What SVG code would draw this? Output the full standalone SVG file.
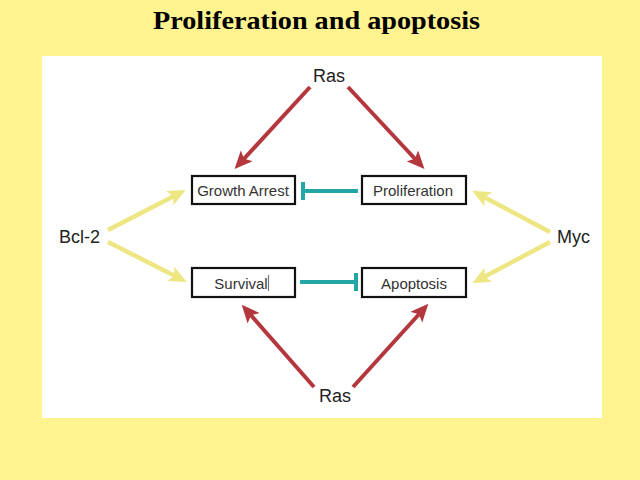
<svg xmlns="http://www.w3.org/2000/svg" width="640" height="480" viewBox="0 0 640 480">
<defs>
<style>
.title{font-family:"Liberation Serif","Times New Roman",serif;font-weight:bold;font-size:26px;fill:#000}
.lbl{font-family:"Liberation Sans",Arial,sans-serif;font-size:18px;fill:#222}
.btxt{font-family:"Liberation Sans",Arial,sans-serif;font-size:15px;fill:#333}
.box{fill:#fff;stroke:#111;stroke-width:2.2}
.red{stroke:#B3373D;stroke-width:4;fill:none}
.yel{stroke:#EEE682;stroke-width:4.5;fill:none}
.teal{stroke:#22A6A6;stroke-width:4;fill:none}
</style>
<marker id="hr" markerUnits="userSpaceOnUse" viewBox="0 0 18 16" markerWidth="18" markerHeight="16" refX="7" refY="8" orient="auto">
<path d="M0,0 L18,8 L0,16 L4,8 Z" fill="#B3373D"/>
</marker>
<marker id="hy" markerUnits="userSpaceOnUse" viewBox="0 0 18 16" markerWidth="18" markerHeight="16" refX="7" refY="8" orient="auto">
<path d="M0,0 L18,8 L0,16 L4,8 Z" fill="#EEE682"/>
</marker>
</defs>
<rect x="0" y="0" width="640" height="480" fill="#FFF38F"/>
<rect x="42" y="56" width="560" height="362" fill="#fff"/>
<text class="title" x="153" y="29" textLength="327" lengthAdjust="spacingAndGlyphs">Proliferation and apoptosis</text>

<g id="connectors">
<line class="red" x1="310" y1="87" x2="242" y2="161" marker-end="url(#hr)"/>
<line class="red" x1="348" y1="87" x2="417" y2="161" marker-end="url(#hr)"/>
<line class="red" x1="314" y1="387" x2="249" y2="313" marker-end="url(#hr)"/>
<line class="red" x1="353" y1="387" x2="421" y2="312" marker-end="url(#hr)"/>
<line class="yel" x1="108" y1="230" x2="176" y2="195" marker-end="url(#hy)"/>
<line class="yel" x1="108" y1="242" x2="177" y2="277" marker-end="url(#hy)"/>
<line class="yel" x1="550" y1="232" x2="482" y2="196" marker-end="url(#hy)"/>
<line class="yel" x1="550" y1="242" x2="482" y2="278" marker-end="url(#hy)"/>
<line class="teal" x1="358" y1="191" x2="303" y2="191"/>
<line class="teal" x1="303" y1="182" x2="303" y2="200"/>
<line class="teal" x1="300" y1="282" x2="356" y2="282"/>
<line class="teal" x1="356" y1="273" x2="356" y2="291"/>
</g>

<g id="ras-top"><text class="lbl" x="329" y="82" text-anchor="middle">Ras</text></g>
<g id="ras-bottom"><text class="lbl" x="335" y="402" text-anchor="middle">Ras</text></g>
<g id="bcl2"><text class="lbl" x="59" y="243">Bcl-2</text></g>
<g id="myc"><text class="lbl" x="557" y="243">Myc</text></g>

<g id="growth-arrest">
<rect class="box" x="192" y="176" width="103" height="28"/>
<text class="btxt" x="243" y="196" text-anchor="middle">Growth Arrest</text>
</g>
<g id="proliferation">
<rect class="box" x="362" y="176" width="104" height="28"/>
<text class="btxt" x="413" y="196" text-anchor="middle">Proliferation</text>
</g>
<g id="survival">
<rect class="box" x="192" y="268" width="103" height="29"/>
<text class="btxt" x="241" y="289" text-anchor="middle">Survival</text>
<line x1="268.5" y1="275" x2="268.5" y2="291" stroke="#777" stroke-width="1.2"/>
</g>
<g id="apoptosis">
<rect class="box" x="362" y="268" width="104" height="29"/>
<text class="btxt" x="414" y="289" text-anchor="middle">Apoptosis</text>
</g>
</svg>
